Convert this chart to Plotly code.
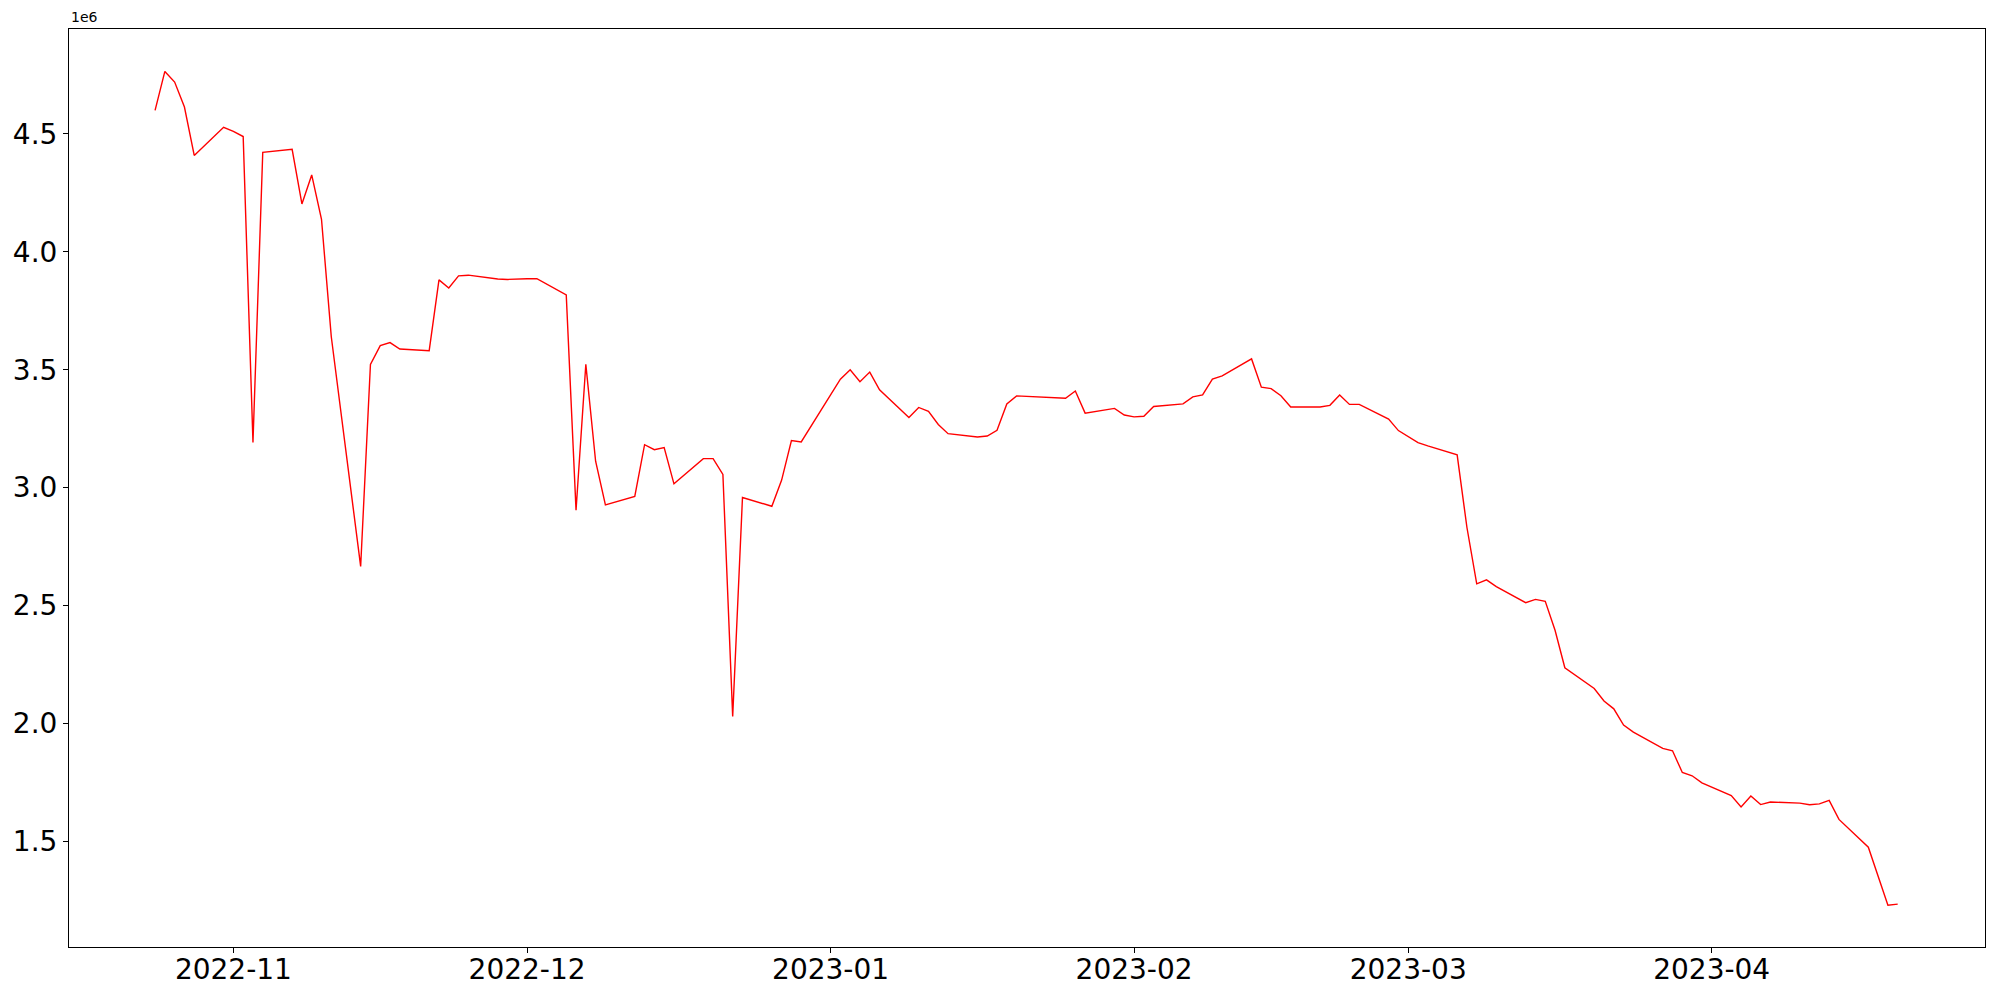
import numpy as np
import plotly.graph_objects as go

# trading days and close values (in millions)
dates = [
    "2022-10-24", "2022-10-25", "2022-10-26", "2022-10-27", "2022-10-28",
    "2022-10-31", "2022-11-01", "2022-11-02", "2022-11-03", "2022-11-04",
    "2022-11-07", "2022-11-08", "2022-11-09", "2022-11-10", "2022-11-11",
    "2022-11-14", "2022-11-15", "2022-11-16", "2022-11-17", "2022-11-18",
    "2022-11-21", "2022-11-22", "2022-11-23", "2022-11-24", "2022-11-25",
    "2022-11-28", "2022-11-29", "2022-11-30", "2022-12-01", "2022-12-02",
    "2022-12-05", "2022-12-06", "2022-12-07", "2022-12-08", "2022-12-09",
    "2022-12-12", "2022-12-13", "2022-12-14", "2022-12-15", "2022-12-16",
    "2022-12-19", "2022-12-20", "2022-12-21", "2022-12-22", "2022-12-23",
    "2022-12-26", "2022-12-27", "2022-12-28", "2022-12-29",
    "2023-01-02", "2023-01-03", "2023-01-04", "2023-01-05", "2023-01-06",
    "2023-01-09", "2023-01-10", "2023-01-11", "2023-01-12", "2023-01-13",
    "2023-01-16", "2023-01-17", "2023-01-18", "2023-01-19", "2023-01-20",
    "2023-01-25", "2023-01-26", "2023-01-27",
    "2023-01-30", "2023-01-31", "2023-02-01", "2023-02-02", "2023-02-03",
    "2023-02-06", "2023-02-07", "2023-02-08", "2023-02-09", "2023-02-10",
    "2023-02-13", "2023-02-14", "2023-02-15", "2023-02-16", "2023-02-17",
    "2023-02-20", "2023-02-21", "2023-02-22", "2023-02-23", "2023-02-24",
    "2023-02-27", "2023-02-28", "2023-03-02", "2023-03-03",
    "2023-03-06", "2023-03-07", "2023-03-08", "2023-03-09", "2023-03-10",
    "2023-03-13", "2023-03-14", "2023-03-15", "2023-03-16", "2023-03-17",
    "2023-03-20", "2023-03-21", "2023-03-22", "2023-03-23", "2023-03-24",
    "2023-03-27", "2023-03-28", "2023-03-29", "2023-03-30", "2023-03-31",
    "2023-04-03", "2023-04-04", "2023-04-05", "2023-04-06", "2023-04-07",
    "2023-04-10", "2023-04-11", "2023-04-12", "2023-04-13", "2023-04-14",
    "2023-04-17", "2023-04-18", "2023-04-19", "2023-04-20",
]
close_m = [
    4.600, 4.765, 4.720, 4.614, 4.409,
    4.528, 4.511, 4.489, 3.192, 4.422,
    4.435, 4.203, 4.326, 4.138, 3.640,
    2.666, 3.523, 3.602, 3.615, 3.588,
    3.581, 3.881, 3.847, 3.898, 3.901,
    3.885, 3.883, 3.886, 3.886, 3.886,
    3.817, 2.904, 3.523, 3.112, 2.927,
    2.963, 3.182, 3.161, 3.170, 3.016,
    3.123, 3.123, 3.056, 2.030, 2.958,
    2.921, 3.032, 3.200, 3.194,
    3.460, 3.500, 3.449, 3.490, 3.415,
    3.297, 3.340, 3.324, 3.268, 3.229,
    3.215, 3.219, 3.243, 3.355, 3.389,
    3.379, 3.410, 3.316,
    3.336, 3.308, 3.300, 3.303, 3.344,
    3.355, 3.385, 3.393, 3.460, 3.474,
    3.546, 3.426, 3.420, 3.390, 3.342,
    3.342, 3.349, 3.393, 3.353, 3.353,
    3.291, 3.242, 3.191, 3.177,
    3.139, 2.831, 2.592, 2.609, 2.580,
    2.512, 2.526, 2.518, 2.395, 2.236,
    2.148, 2.095, 2.062, 1.993, 1.963,
    1.894, 1.884, 1.792, 1.778, 1.748,
    1.694, 1.646, 1.692, 1.656, 1.667,
    1.662, 1.655, 1.659, 1.674, 1.593,
    1.475, 1.352, 1.229, 1.234,
]

y_ticks = [1.5, 2.0, 2.5, 3.0, 3.5, 4.0, 4.5]
tick_font = {"family": "DejaVu Sans", "size": 28, "color": "black"}

fig = go.Figure()
fig.add_trace(
    go.Scatter(
        x=dates,
        y=np.array(close_m) * 1e6,
        mode="lines",
        line={"color": "red", "width": 1.4},
        showlegend=False,
    )
)

axis_common = dict(
    showline=True,
    mirror=True,
    linecolor="black",
    linewidth=1,
    showgrid=False,
    zeroline=False,
    ticks="outside",
    ticklen=5,
    tickwidth=1,
    tickcolor="black",
    tickfont=tick_font,
    automargin=False,
)

fig.update_xaxes(
    type="date",
    range=["2022-10-15 05:00", "2023-04-28 22:00"],
    dtick="M1",
    tick0="2022-11-01",
    tickformat="%Y-%m",
    ticklabelstandoff=-8,
    **axis_common,
)
fig.update_yaxes(
    range=[1.052e6, 4.945e6],
    tickvals=[v * 1e6 for v in y_ticks],
    ticktext=[f"{v:.1f}" for v in y_ticks],
    **axis_common,
)

fig.add_annotation(
    text="1e6",
    xref="paper",
    yref="paper",
    x=0,
    y=1,
    xanchor="left",
    yanchor="bottom",
    yshift=2,
    showarrow=False,
    font={"family": "DejaVu Sans", "size": 14, "color": "black"},
)

# page body has an 8px margin, so the figure is sized to fit inside it
fig.update_layout(
    width=1992,
    height=992,
    margin={"l": 61, "r": 15, "t": 21, "b": 53},
    paper_bgcolor="white",
    plot_bgcolor="white",
)

fig.write_html("out.html")
